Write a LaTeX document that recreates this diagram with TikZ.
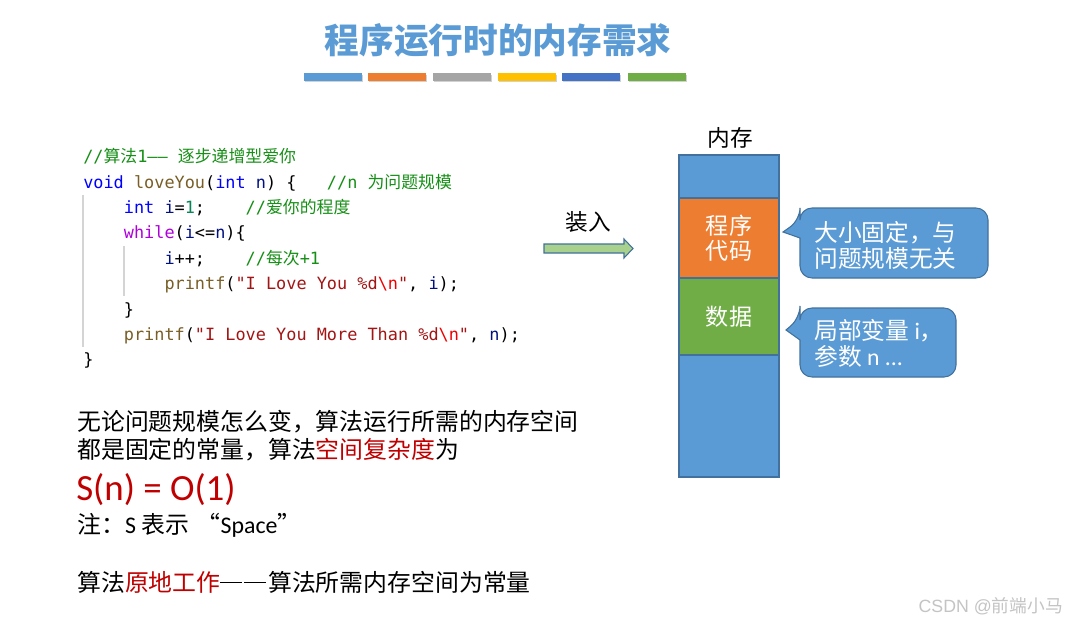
\documentclass[tikz,border=0pt]{standalone}
\usepackage{fontspec}
\setmainfont{Carlito}
\newfontfamily\cjk{Noto Sans CJK SC}
\newfontfamily\codefont{DejaVu Sans Mono}
\newfontfamily\wmfont{Liberation Sans}
\definecolor{tblue}{HTML}{5B9BD5}
\definecolor{torange}{HTML}{ED7D31}
\definecolor{tgray}{HTML}{A5A5A5}
\definecolor{tyellow}{HTML}{FFC000}
\definecolor{tdblue}{HTML}{4472C4}
\definecolor{tgreen}{HTML}{70AD47}
\definecolor{bordblue}{HTML}{41719C}
\definecolor{arrowgreen}{HTML}{A9D18E}
\definecolor{redtxt}{HTML}{C00000}
\definecolor{ckw}{HTML}{0000FF}
\definecolor{cfn}{HTML}{795E26}
\definecolor{cctl}{HTML}{AF00DB}
\definecolor{cvar}{HTML}{001080}
\definecolor{cnum}{HTML}{098658}
\definecolor{cstr}{HTML}{A31515}
\definecolor{cesc}{HTML}{EE0000}
\definecolor{ccm}{HTML}{168F16}
\definecolor{guide}{HTML}{D4D4D4}
\definecolor{wm}{HTML}{C4C4C4}
\newcommand\twodash{\rule[0.33em]{0.9em}{0.07em}\hspace{0.1em}\rule[0.33em]{0.9em}{0.07em}\hspace{0.1em}}
\begin{document}
\begin{tikzpicture}[x=0.75pt,y=-0.75pt,
  code/.style={anchor=base west,inner sep=0pt,font=\codefont\fontsize{12.65}{15}\selectfont},
  body/.style={anchor=west,inner sep=0pt,font=\cjk\fontsize{17.9}{21}\selectfont},
  mem/.style={draw=bordblue,line width=0.8pt,minimum width=75pt,inner sep=0pt,text=white,
     align=center,font=\cjk\fontsize{17.3}{19}\selectfont},
  callout/.style={fill=tblue,draw=bordblue,line width=0.8pt},
  calltext/.style={anchor=west,inner sep=0pt,align=left,text=white,
     font=\cjk\fontsize{17.8}{19.5}\selectfont},
  lbl/.style={inner sep=0pt,font=\cjk\fontsize{17}{20}\selectfont}]
\useasboundingbox (0,0) rectangle (1069,624);
\fill[white] (0,0) rectangle (1069,624);
% title
\node[inner sep=0pt,text=tblue,font=\cjk\bfseries\fontsize{26}{30}\selectfont] (title) at (498,40) {程序运行时的内存需求};
% colour bars
\foreach \x/\c in {304/tblue,368/torange,433/tgray,498/tyellow,562/tdblue,628/tgreen}{
  \fill[black!18] (\x+1,75) rectangle (\x+59,82.5);
  \fill[\c] (\x,73.5) rectangle (\x+58,81);
}
% code indent guides
\draw[guide,line width=0.8pt] (83,195) -- (83,347);
\draw[guide,line width=0.8pt] (124,246) -- (124,296);
% code
\node[code] (c1) at (83,162) {\color{ccm}//{\cjk 算法}1——~{\cjk 逐步递增型爱你}};
\node[code] (c2) at (83,188) {{\color{ckw}void}~{\color{cfn}loveYou}({\color{ckw}int}~{\color{cvar}n})~\{~~~{\color{ccm}//n~{\cjk 为问题规模}}};
\node[code] (c3) at (83,213) {~~~~{\color{ckw}int}~{\color{cvar}i}={\color{cnum}1};~~~~{\color{ccm}//{\cjk 爱你的程度}}};
\node[code] (c4) at (83,238.5) {~~~~{\color{cctl}while}({\color{cvar}i}<={\color{cvar}n})\{};
\node[code] (c5) at (83,264) {~~~~~~~~{\color{cvar}i}++;~~~~{\color{ccm}//{\cjk 每次}+1}};
\node[code] (c6) at (83,289.5) {~~~~~~~~{\color{cfn}printf}({\color{cstr}"I~Love~You~\%d}{\color{cesc}\textbackslash n}{\color{cstr}"},~{\color{cvar}i});};
\node[code] (c7) at (83,315) {~~~~\}};
\node[code] (c8) at (83,340) {~~~~{\color{cfn}printf}({\color{cstr}"I~Love~You~More~Than~\%d}{\color{cesc}\textbackslash n}{\color{cstr}"},~{\color{cvar}n});};
\node[code] (c9) at (83,365.5) {\}};
% load arrow
\node[lbl] (load) at (588,222) {装入};
\draw[fill=arrowgreen,draw=bordblue,line width=0.8pt] (544,244) -- (624,244) -- (624,239) -- (633,248.5) -- (624,258) -- (624,253) -- (544,253) -- cycle;
% memory
\node[lbl] (memlbl) at (730,138) {内存};
\node[mem,fill=tblue,minimum height=43*0.75pt] (mtop) at (729,176.5) {};
\node[mem,fill=torange,minimum height=80*0.75pt] (mcode) at (729,238) {程序\\代码};
\node[mem,fill=tgreen,minimum height=77*0.75pt] (mdata) at (729,316.5) {数据};
\node[mem,fill=tblue,minimum height=122*0.75pt] (mbot) at (729,416) {};
% callouts
\draw[callout] (800,238) [rounded corners=9pt] -- (800,278) -- (988,278) -- (988,208) -- (800,208) -- (800,220) [sharp corners] -- (783,232) -- cycle;
\node[calltext] (call1) at (814,245) {大小固定，与\\问题规模无关};
\draw[callout] (800,340) [rounded corners=9pt] -- (800,377) -- (956,377) -- (956,308) -- (800,308) -- (800,318) [sharp corners] -- (786,330) -- cycle;
\node[calltext] (call2) at (814,343) {局部变量~{\fontspec{Carlito}i}，\\参数~{\fontspec{Carlito}n~...}};
% bottom text
\node[body] (t1) at (77,422) {无论问题规模怎么变，算法运行所需的内存空间};
\node[body] (t2) at (77,450) {都是固定的常量，算法\textcolor{redtxt}{空间复杂度}为};
\node[anchor=west,inner sep=0pt,text=redtxt,font=\fontsize{27.7}{30}\selectfont] (t3) at (76,490) {S(n) = O(1)};
\node[body] (t4) at (77,525) {注：{\fontspec{Carlito}S}~表示~\makebox[1.1em][r]{“}{\fontspec{Carlito}Space}”};
\node[body] (t5) at (77,582) {算法\textcolor{redtxt}{原地工作}\twodash 算法所需内存空间为常量};
% watermark
\node[anchor=east,inner sep=0pt,text=wm,font=\wmfont\fontsize{13.3}{15}\selectfont] (wmk) at (1063,606) {CSDN @{\cjk 前端小马}};
\end{tikzpicture}
\end{document}
